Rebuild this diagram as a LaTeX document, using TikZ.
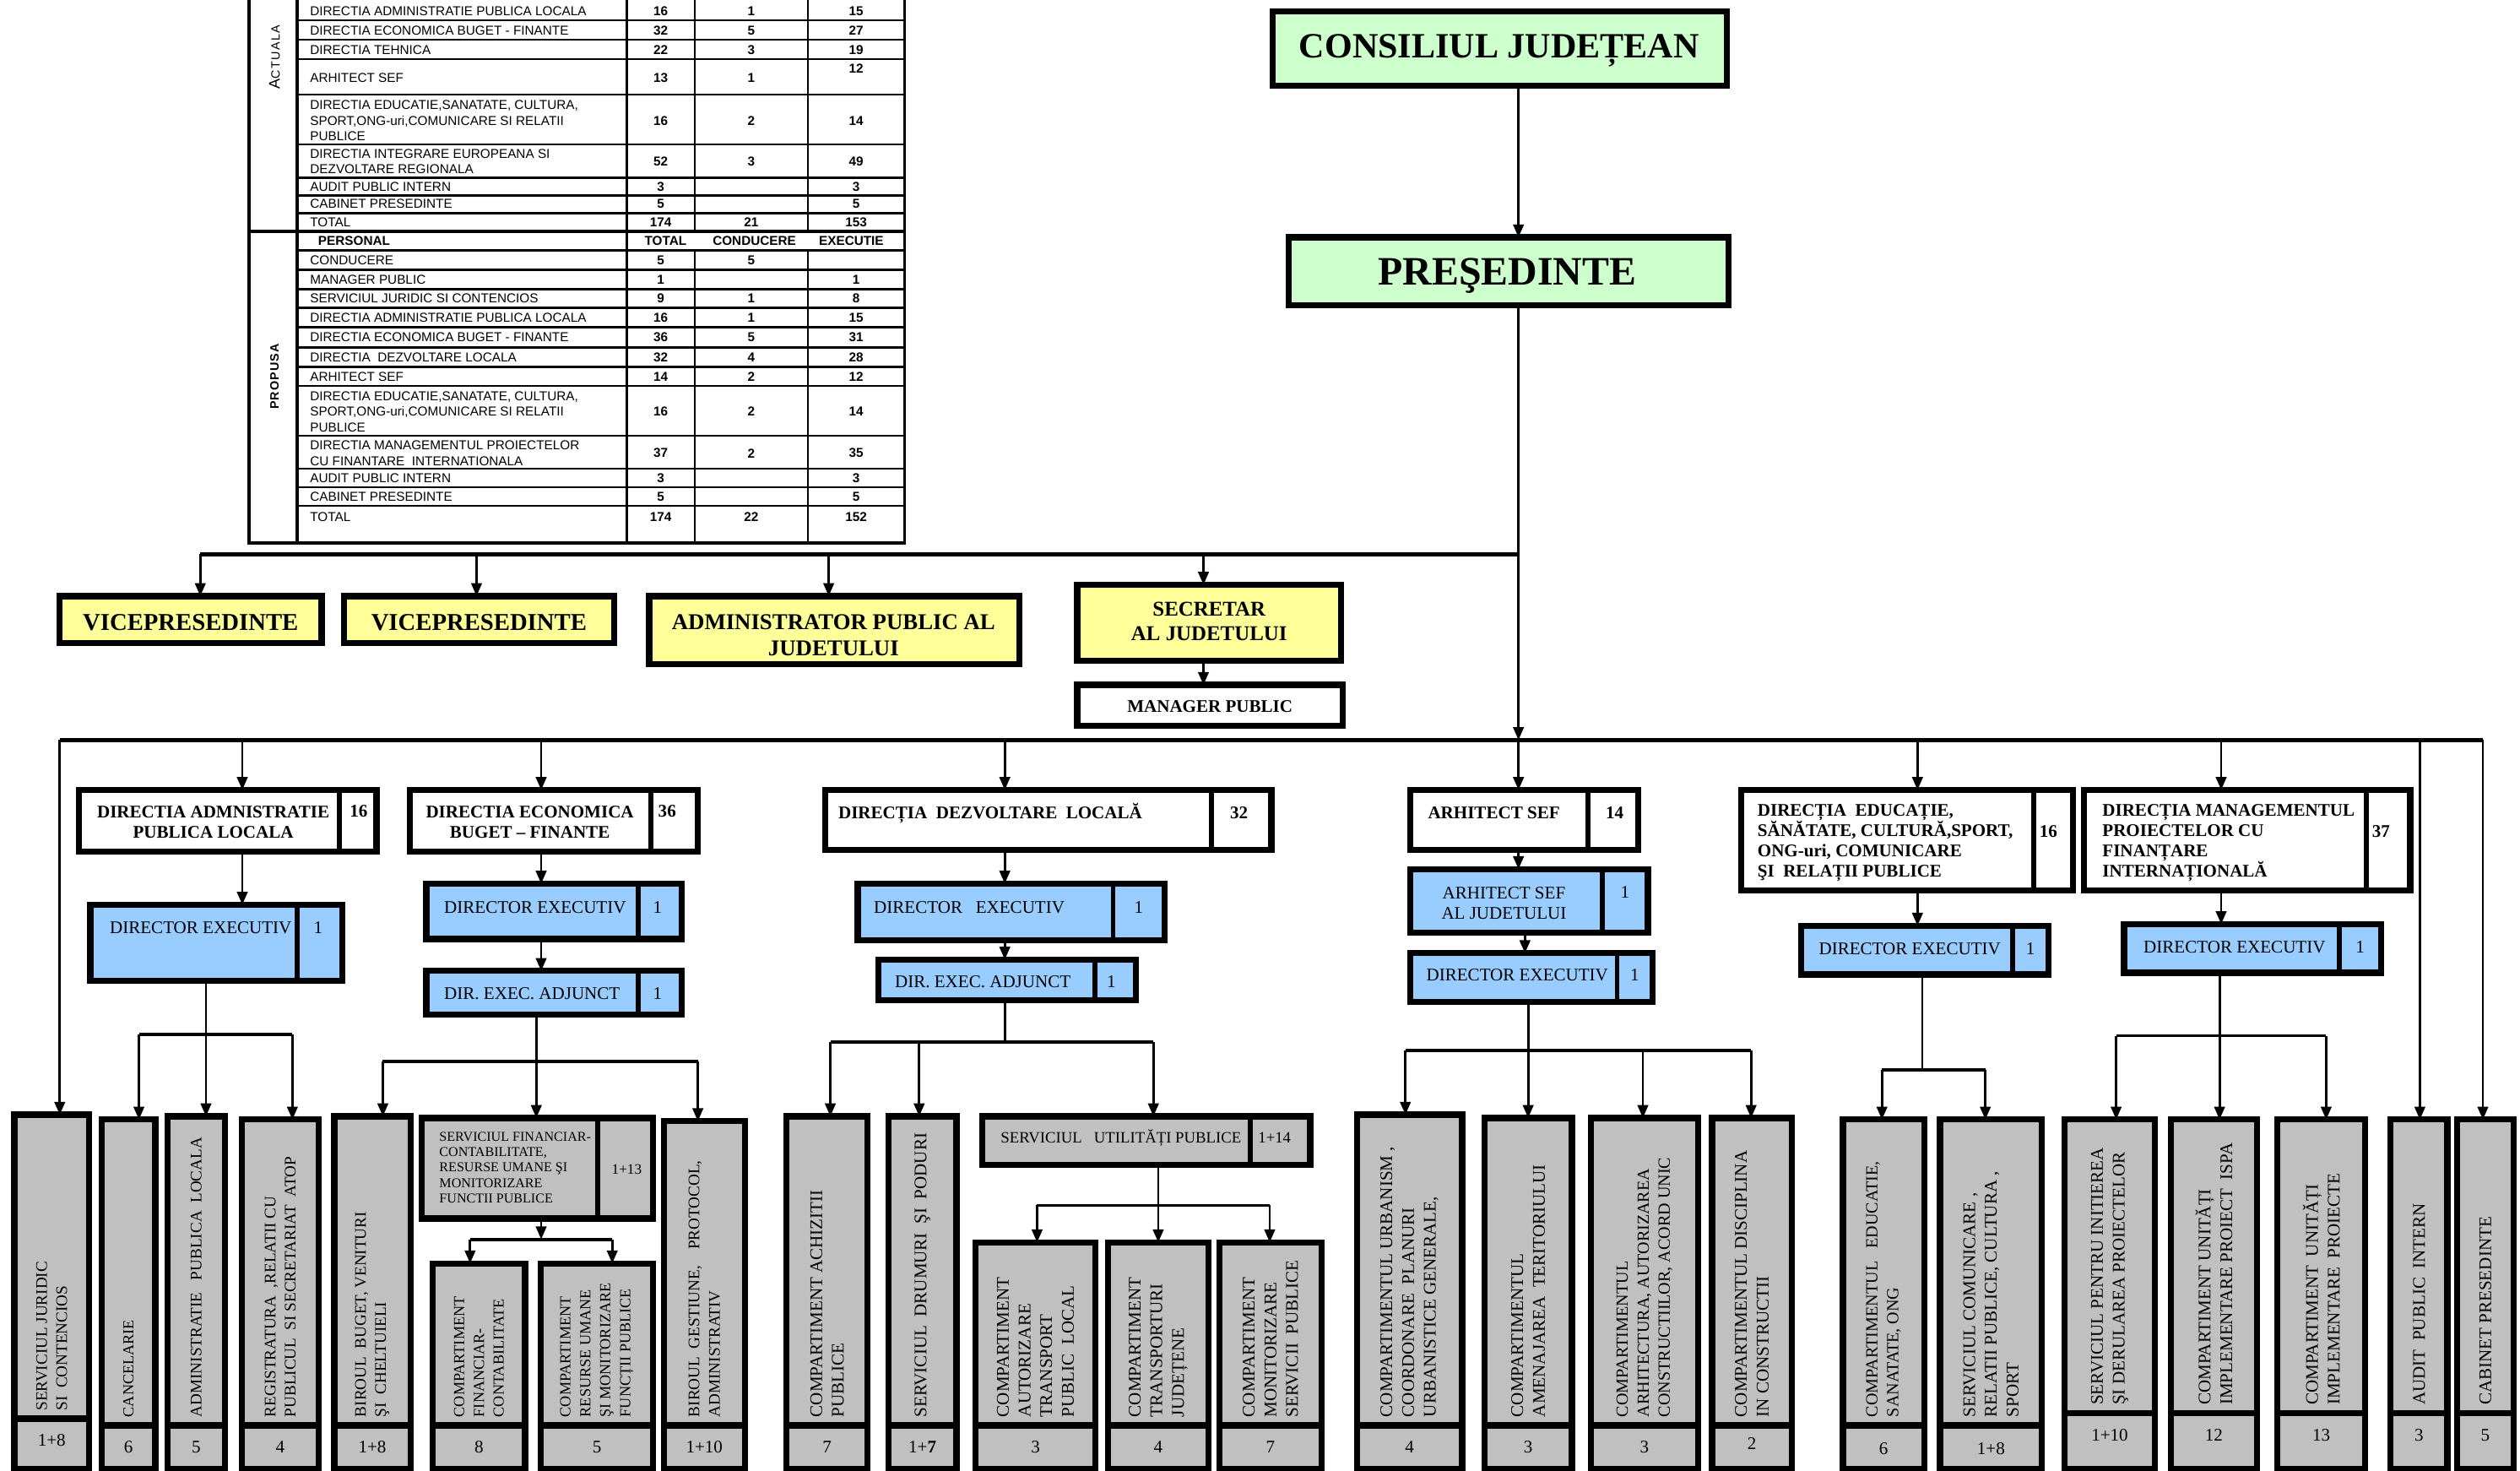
\documentclass[tikz,border=0pt]{standalone}
\usepackage{fontspec}
\setmainfont{Liberation Serif}
\newfontfamily\arialf{Liberation Sans}
\usetikzlibrary{arrows.meta}
\definecolor{cgreen}{HTML}{CCFFCC}
\definecolor{cyellow}{HTML}{FFFF99}
\definecolor{cblue}{HTML}{99CCFF}
\definecolor{cgrey}{HTML}{C0C0C0}
\newcommand\fsz[2]{\fontsize{#1}{#2}\selectfont}
\tikzset{
  every node/.style={inner sep=0pt, outer sep=0pt},
  frame/.style={draw=black, line width=3.8pt},
  gnbox/.style={frame, fill=cgreen},
  ybox/.style={frame, fill=cyellow},
  wbox/.style={frame, fill=white},
  bbox/.style={frame, fill=cblue},
  gbox/.style={frame, fill=cgrey},
  ln/.style={line width=1.5pt},
  arr/.style={line width=1.5pt, -{Triangle[length=8pt,width=6.5pt]}},
  busl/.style={line width=2.4pt},
  brl/.style={line width=2pt},
  divl/.style={line width=3pt},
  tthick/.style={line width=2pt},
  tthin/.style={line width=1.2pt},
  tname/.style={font=\arialf\fsz{8}{9.6}, anchor=west, align=left},
  tnum/.style={font=\arialf\bfseries\fsz{8}{9.6}},
  lvl/.style={font=\bfseries\fsz{11}{12.6}},
  blu/.style={font=\fsz{11}{13}},
}
\newcommand\rbox[6]{\node[#1, minimum width={#5-#3-3.8}, minimum height={#6-#4-3.8}] (#2) at ({(#3+#5)/2},{(#4+#6)/2}) {};}
\newcommand\colbox[9][\fsz{11}{13.4}]{%
  \node[gbox, minimum width={#4-#3-3.8}, minimum height={911-#5-3.8}] (#2) at ({(#3+#4)/2},{(#5+911)/2}) {};
  \draw[line width=4pt] (#3,#6) -- (#4,#6);
  \node[rotate=90, anchor=west, align=left, font=#1] (#2t) at ({(#3+#4)/2},{#6-5}) {#7};
  \node[anchor=base, font=\fsz{11}{13}] (#2n) at ({(#3+#4)/2},#9) {#8};}
\newcommand\trow[7]{%
  \node[tname] (n#1) at (192,#2) {#4};
  \node[tnum] (t#1) at (409,#2) {#5};
  \node[tnum] (c#1) at (465,#2) {#6};
  \node[tnum] (e#1) at (530,#2) {#7};
  \draw[tthin] (184,#3) -- (560,#3);}
\begin{document}
\begin{tikzpicture}[x=1pt,y=-1pt]
\useasboundingbox (0,0) rectangle (1560,910);

% ---------------- table ----------------
\trow{a1}{7}{12.5}{DIRECTIA ADMINISTRATIE PUBLICA LOCALA}{16}{1}{15}
\trow{a2}{18.8}{24.7}{DIRECTIA ECONOMICA BUGET - FINANTE}{32}{5}{27}
\trow{a3}{31}{36.6}{DIRECTIA TEHNICA}{22}{3}{19}
\trow{a4}{48}{58.7}{ARHITECT SEF}{13}{1}{}
\node[tnum] (ea4b) at (530,42.3) {12};
\trow{a5}{74.6}{89.3}{DIRECTIA EDUCATIE,SANATATE, CULTURA,\\SPORT,ONG-uri,COMUNICARE SI RELATII\\PUBLICE}{16}{2}{14}
\trow{a6}{99.8}{110}{DIRECTIA INTEGRARE EUROPEANA SI\\DEZVOLTARE REGIONALA}{52}{3}{49}
\trow{a7}{115.5}{121}{AUDIT PUBLIC INTERN}{3}{}{3}
\trow{a8}{126.3}{132}{CABINET PRESEDINTE}{5}{}{5}
\trow{a9}{137.7}{143}{TOTAL}{174}{21}{153}
\node[tnum, anchor=west] (hp) at (197,149) {PERSONAL};
\node[tnum] (ht) at (412,149) {TOTAL};
\node[tnum] (hc) at (467,149) {CONDUCERE};
\node[tnum] (he) at (527,149) {EXECUTIE};
\draw[tthin] (184,155) -- (560,155);
\trow{p1}{161}{167}{CONDUCERE}{5}{5}{}
\trow{p2}{173}{179}{MANAGER PUBLIC}{1}{}{1}
\trow{p3}{184.6}{190.5}{SERVICIUL JURIDIC SI CONTENCIOS}{9}{1}{8}
\trow{p4}{196.6}{202.5}{DIRECTIA ADMINISTRATIE PUBLICA LOCALA}{16}{1}{15}
\trow{p5}{208.8}{215}{DIRECTIA ECONOMICA BUGET - FINANTE}{36}{5}{31}
\trow{p6}{221.3}{227}{DIRECTIA~~DEZVOLTARE LOCALA}{32}{4}{28}
\trow{p7}{233}{239}{ARHITECT SEF}{14}{2}{12}
\trow{p8}{254.8}{269.5}{DIRECTIA EDUCATIE,SANATATE, CULTURA,\\SPORT,ONG-uri,COMUNICARE SI RELATII\\PUBLICE}{16}{2}{14}
\trow{p9}{280.5}{290}{DIRECTIA MANAGEMENTUL PROIECTELOR\\CU FINANTARE~~INTERNATIONALA}{37}{2}{35}
\trow{p10}{296}{301.5}{AUDIT PUBLIC INTERN}{3}{}{3}
\trow{p11}{307.5}{313}{CABINET PRESEDINTE}{5}{}{5}
\trow{p12}{320}{336}{TOTAL}{174}{22}{152}
\draw[tthick] (154,0) -- (154,336.5);
\draw[tthick] (184,0) -- (184,336.5);
\draw[tthick] (560,0) -- (560,336.5);
\draw[tthin] (388,0) -- (388,336);
\draw[tthin] (430,0) -- (430,143) (430,155) -- (430,336);
\draw[tthin] (500,0) -- (500,143) (500,155) -- (500,336);
\draw[tthick] (154,143) -- (560,143);
\draw[tthick] (153,336) -- (561,336);
\node[rotate=90, font=\arialf] (lblA) at (170,35.5) {{\fsz{9.5}{10}A}{\fsz{7.5}{8}\addfontfeature{LetterSpace=10}CTUALA}};
\node[rotate=90, font=\arialf\bfseries\fsz{7.5}{8}] (lblP) at (170,233) {\addfontfeature{LetterSpace=8}PROPUSA};

% ---------------- top ----------------
\rbox{gnbox}{cj}{786}{5}{1071}{55}
\node[anchor=base, font=\bfseries\fsz{22}{24}] (cjt) at (928,36) {CONSILIUL JUDEȚEAN};
\rbox{gnbox}{pr}{796}{145}{1072}{191}
\node[anchor=base, font=\bfseries\fsz{25}{27}] (prt) at (933,176.5) {PREŞEDINTE};

\rbox{ybox}{v1}{35}{367}{201}{400}
\node[anchor=base, font=\bfseries\fsz{15}{17}] (v1t) at (118,390) {VICEPRESEDINTE};
\rbox{ybox}{v2}{211}{367}{382}{400}
\node[anchor=base, font=\bfseries\fsz{15}{17}] (v2t) at (296.5,390) {VICEPRESEDINTE};
\rbox{ybox}{adm}{400}{367}{633}{413}
\node[align=center, font=\bfseries\fsz{14}{16}] (admt) at (516,393) {ADMINISTRATOR PUBLIC AL\\JUDETULUI};
\rbox{ybox}{sec}{665}{360}{832}{411}
\node[align=center, font=\bfseries\fsz{13}{15}] (sect) at (748.5,384.5) {SECRETAR\\AL JUDETULUI};
\rbox{wbox}{mgr}{665}{422}{833}{451}
\node[anchor=base, font=\bfseries\fsz{11}{13}] (mgrt) at (749,441) {MANAGER PUBLIC};

% ---------------- level 2 ----------------
\rbox{wbox}{dirA}{47}{487}{235}{529}
\draw[divl] (210,487) -- (210,529);
\node[lvl, align=center] (dirAt) at (132,509) {DIRECTIA ADMNISTRATIE\\PUBLICA LOCALA};
\node[lvl, anchor=base] (dirAn) at (222,505.5) {16};
\rbox{wbox}{dirB}{252}{487}{434}{529}
\draw[divl] (403,487) -- (403,529);
\node[lvl, align=center] (dirBt) at (328,509) {DIRECTIA ECONOMICA\\BUGET -- FINANTE};
\node[lvl, anchor=base] (dirBn) at (413,505.5) {36};
\rbox{wbox}{dirC}{509}{487}{789}{528}
\draw[divl] (750,487) -- (750,528);
\node[lvl, anchor=base west] (dirCt) at (519,506.5) {DIRECȚIA~~DEZVOLTARE~~LOCALĂ};
\node[lvl, anchor=base] (dirCn) at (767,506.5) {32};
\rbox{wbox}{arh}{871}{487}{1016}{528}
\draw[divl] (983,487) -- (983,528);
\node[lvl, anchor=base west] (arht) at (884,506.5) {ARHITECT SEF};
\node[lvl, anchor=base] (arhn) at (999.5,506.5) {14};
\rbox{wbox}{dirE}{1076}{487}{1285}{553}
\draw[divl] (1259,487) -- (1259,553);
\node[lvl, anchor=west, align=left] (dirEt) at (1088,521.5) {DIRECȚIA~~EDUCAȚIE,\\SĂNĂTATE, CULTURĂ,SPORT,\\ONG-uri, COMUNICARE\\ŞI~~RELAȚII PUBLICE};
\node[lvl, anchor=base] (dirEn) at (1268,518) {16};
\rbox{wbox}{dirF}{1288}{487}{1494}{553}
\draw[divl] (1465,487) -- (1465,553);
\node[lvl, anchor=west, align=left] (dirFt) at (1301.5,521.5) {DIRECȚIA MANAGEMENTUL\\PROIECTELOR CU\\FINANȚARE\\INTERNAȚIONALĂ};
\node[lvl, anchor=base] (dirFn) at (1474,518) {37};

% ---------------- level 3 (blue) ----------------
\rbox{bbox}{deA}{54}{558}{214}{609}
\draw[divl] (184,558) -- (184,609);
\node[blu, anchor=base west] (deAt) at (68,578) {DIRECTOR EXECUTIV};
\node[blu, anchor=base] (deAn) at (197,578) {1};
\rbox{bbox}{deB}{262}{545}{424}{583}
\draw[divl] (395,545) -- (395,583);
\node[blu, anchor=base west] (deBt) at (275,565) {DIRECTOR EXECUTIV};
\node[blu, anchor=base] (deBn) at (407,565) {1};
\rbox{bbox}{adjB}{262}{599}{424}{630}
\draw[divl] (395,599) -- (395,630);
\node[blu, anchor=base west] (adjBt) at (275,618.5) {DIR. EXEC. ADJUNCT};
\node[blu, anchor=base] (adjBn) at (407,618.5) {1};
\rbox{bbox}{deC}{529}{545}{723}{584}
\draw[divl] (689,545) -- (689,584);
\node[blu, anchor=base west] (deCt) at (541,565) {DIRECTOR~~~EXECUTIV};
\node[blu, anchor=base] (deCn) at (705,565) {1};
\rbox{bbox}{adjC}{542}{592}{705}{621}
\draw[divl] (678,592) -- (678,621);
\node[blu, anchor=base west] (adjCt) at (554,611) {DIR. EXEC. ADJUNCT};
\node[blu, anchor=base] (adjCn) at (688,611) {1};
\rbox{bbox}{ajD}{871}{536}{1022}{579}
\draw[divl] (992,536) -- (992,579);
\node[blu, align=center] (ajDt) at (931,559) {ARHITECT SEF\\AL JUDETULUI};
\node[blu, anchor=base] (ajDn) at (1006,556) {1};
\rbox{bbox}{deD}{871}{588}{1025}{622}
\draw[divl] (1001,588) -- (1001,622);
\node[blu, anchor=base west] (deDt) at (883,607) {DIRECTOR EXECUTIV};
\node[blu, anchor=base] (deDn) at (1012,607) {1};
\rbox{bbox}{deE}{1113}{571}{1270}{605}
\draw[divl] (1246,571) -- (1246,605);
\node[blu, anchor=base west] (deEt) at (1126,591) {DIRECTOR EXECUTIV};
\node[blu, anchor=base] (deEn) at (1257,591) {1};
\rbox{bbox}{deF}{1313}{570}{1476}{604}
\draw[divl] (1448,570) -- (1448,604);
\node[blu, anchor=base west] (deFt) at (1327,590) {DIRECTOR EXECUTIV};
\node[blu, anchor=base] (deFn) at (1461,590) {1};

% ---------------- grey horizontal boxes ----------------
\rbox{gbox}{sf}{259}{690}{406}{756}
\draw[divl] (370,690) -- (370,756);
\node[anchor=north west, align=left, font=\fsz{8.4}{9.6}] (sft) at (272,700.5) {SERVICIUL FINANCIAR-\\CONTABILITATE,\\RESURSE UMANE ŞI\\MONITORIZARE\\ FUNCTII PUBLICE};
\node[anchor=base, font=\fsz{9}{11}] (sfn) at (388,726.5) {1+13};
\rbox{gbox}{su}{606}{689}{813}{723}
\draw[divl] (774,689) -- (774,723);
\node[anchor=base west, font=\fsz{9.8}{12}] (sut) at (619.5,707.5) {SERVICIUL~~~UTILITĂȚI PUBLICE};
\node[anchor=base, font=\fsz{9.8}{12}] (sun) at (789,707.5) {1+14};

% ---------------- bottom columns ----------------
\colbox[\fsz{10}{12.4}]{jur}{7}{57}{688}{878}{SERVICIUL JURIDIC\\SI~~CONTENCIOS}{1+8}{895}
\colbox[\fsz{9.5}{11.6}]{can}{61}{98}{691}{882}{CANCELARIE}{6}{899}
\colbox[\fsz{10}{12.4}]{apl}{102}{141}{689}{882}{ADMINISTRATIE~~~PUBLICA~~LOCALA}{5}{899}
\colbox[\fsz{10}{12.4}]{reg}{148}{199}{691}{882}{REGISTRATURA~~,RELATII CU\\PUBLICUL~~SI SECRETARIAT~~ATOP}{4}{899}
\colbox[\fsz{10}{12.4}]{bbv}{205}{256}{689}{882}{BIROUL~~BUGET, VENITURI\\ŞI~~CHELTUIELI}{1+8}{899}
\colbox[\fsz{9.5}{12.2}]{cfc}{266}{327}{780}{882}{COMPARTIMENT\\FINANCIAR-\\CONTABILITATE}{8}{899}
\colbox[\fsz{9.5}{12.4}]{cru}{333}{406}{780}{882}{COMPARTIMENT\\RESURSE UMANE\\ŞI MONITORIZARE\\FUNCȚII PUBLICE}{5}{899}
\colbox[\fsz{10}{12.6}]{bga}{409}{463}{692}{882}{BIROUL~~GESTIUNE,~~~~PROTOCOL,\\ADMINISTRATIV}{1+10}{899}
\colbox{cap}{485}{539}{689}{882}{COMPARTIMENT ACHIZITII\\PUBLICE}{7}{899}
\colbox{sdp}{548}{594}{689}{882}{SERVICIUL~~DRUMURI~~ŞI~~PODURI}{1+\textbf{7}}{899}
\colbox{cat}{602}{680}{767}{882}{COMPARTIMENT\\AUTORIZARE\\TRANSPORT\\PUBLIC~~LOCAL}{3}{899}
\colbox{ctj}{684}{750}{767}{882}{COMPARTIMENT\\TRANSPORTURI\\JUDEȚENE}{4}{899}
\colbox{cms}{753}{820}{767}{882}{COMPARTIMENT\\MONITORIZARE\\SERVICII~~PUBLICE}{7}{899}
\colbox{cur}{838}{907}{688}{882}{COMPARTIMENTUL URBANISM ,\\COORDONARE~~PLANURI\\URBANISTICE GENERALE,}{4}{899}
\colbox{cam}{917}{975}{690}{882}{COMPARTIMENTUL\\AMENAJAREA~~TERITORIULUI}{3}{899}
\colbox[\fsz{10.5}{13}]{car}{983}{1053}{690}{882}{COMPARTIMENTUL\\ARHITECTURA, AUTORIZAREA\\CONSTRUCTIILOR, ACORD UNIC}{3}{899}
\colbox{cdc}{1058}{1111}{690}{882}{COMPARTIMENTUL DISCIPLINA\\IN CONSTRUCTII}{2}{897}
\colbox[\fsz{10.5}{13}]{ces}{1139}{1193}{691}{882}{COMPARTIMENTUL~~~EDUCATIE,\\SANATATE, ONG}{6}{900}
\colbox{scr}{1199}{1266}{691}{882}{SERVICIUL COMUNICARE ,\\RELATII PUBLICE, CULTURA ,\\SPORT}{1+8}{900}
\colbox{spi}{1276}{1336}{691}{874.5}{SERVICIUL PENTRU INITIEREA\\ŞI DERULAREA PROIECTELOR}{1+10}{892}
\colbox{cui}{1342}{1399}{691}{874.5}{COMPARTIMENT UNITĂȚI\\IMPLEMENTARE PROIECT~~ISPA}{12}{892}
\colbox{cup}{1408}{1466}{691}{874.5}{COMPARTIMENT~~UNITĂȚI\\IMPLEMENTARE~~PROIECTE}{13}{892}
\colbox{api}{1478}{1517}{691}{874.5}{AUDIT~~PUBLIC~~INTERN}{3}{892}
\colbox{cpr}{1519}{1558}{691}{874.5}{CABINET PRESEDINTE}{5}{892}

% ---------------- connectors ----------------
\coordinate (jU) at (940,343);
\coordinate (jB) at (940,458);
\draw[arr] (cj.south -| jU) -- (pr.north -| jU);
\draw[ln] (pr.south -| jU) -- (jU);
\draw[arr] (jU) -- (jB);
\coordinate (u1) at (124,343);
\coordinate (u2) at (295,343);
\coordinate (u3) at (513,343);
\coordinate (u4) at (745,343);
\draw[busl] (u1) -- (jU);
\draw[arr] (u1) -- (u1 |- v1.north);
\draw[arr] (u2) -- (u2 |- v2.north);
\draw[arr] (u3) -- (u3 |- adm.north);
\draw[arr] (u4) -- (u4 |- sec.north);
\draw[arr] (sec.south -| u4) -- (mgr.north -| u4);

\coordinate (b0) at (37,458);
\coordinate (b1) at (150,458);
\coordinate (b2) at (335,458);
\coordinate (b3) at (622,458);
\coordinate (b5) at (1187,458);
\coordinate (b6) at (1375,458);
\coordinate (b7) at (1498,458);
\coordinate (b8) at (1537,458);
\draw[busl] (b0) -- (b8);
\draw[arr] (b0) -- (b0 |- jur.north);
\draw[arr] (b1) -- (b1 |- dirA.north);
\draw[arr] (b2) -- (b2 |- dirB.north);
\draw[arr] (b3) -- (b3 |- dirC.north);
\draw[arr] (jB) -- (jB |- arh.north);
\draw[arr] (b5) -- (b5 |- dirE.north);
\draw[arr] (b6) -- (b6 |- dirF.north);
\draw[arr] (b7) -- (b7 |- api.north);
\draw[arr] (b8) -- (b8 |- cpr.north);

\draw[arr] (dirA.south -| b1) -- (deA.north -| b1);
\draw[arr] (dirB.south -| b2) -- (deB.north -| b2);
\draw[arr] (deB.south -| b2) -- (adjB.north -| b2);
\draw[arr] (dirC.south -| b3) -- (deC.north -| b3);
\draw[arr] (deC.south -| b3) -- (adjC.north -| b3);
\draw[arr] (arh.south -| jB) -- (ajD.north -| jB);
\coordinate (xD) at (944,0);
\draw[arr] (ajD.south -| xD) -- (deD.north -| xD);
\draw[arr] (dirE.south -| b5) -- (deE.north -| b5);
\draw[arr] (dirF.south -| b6) -- (deF.north -| b6);

% admin branch
\coordinate (aL) at (86,640);
\coordinate (aM) at (127.5,640);
\coordinate (aR) at (181,640);
\draw[ln] (deA.south -| aM) -- (aM);
\draw[brl] (aL) -- (aR);
\draw[arr] (aL) -- (aL |- can.north);
\draw[arr] (aM) -- (aM |- apl.north);
\draw[arr] (aR) -- (aR |- reg.north);
% economic branch
\coordinate (eL) at (237,657);
\coordinate (eM) at (332,657);
\coordinate (eR) at (432,657);
\draw[ln] (adjB.south -| eM) -- (eM);
\draw[brl] (eL) -- (eR);
\draw[arr] (eL) -- (eL |- bbv.north);
\draw[arr] (eM) -- (eM |- sf.north);
\draw[arr] (eR) -- (eR |- bga.north);
\coordinate (fL) at (291,767);
\coordinate (fM) at (335,767);
\coordinate (fR) at (379,767);
\draw[arr] (sf.south -| fM) -- (fM);
\draw[brl] (fL) -- (fR);
\draw[arr] (fL) -- (fL |- cfc.north);
\draw[arr] (fR) -- (fR |- cru.north);
% dezvoltare branch
\coordinate (dL) at (514,645);
\coordinate (dM) at (569,645);
\coordinate (dC) at (622,645);
\coordinate (dR) at (714,645);
\draw[ln] (adjC.south -| dC) -- (dC);
\draw[brl] (dL) -- (dR);
\draw[arr] (dL) -- (dL |- cap.north);
\draw[arr] (dM) -- (dM |- sdp.north);
\draw[arr] (dR) -- (dR |- su.north);
\coordinate (sL) at (642,746);
\coordinate (sM) at (717,746);
\coordinate (sR) at (786,746);
\draw[ln] (su.south -| sM) -- (sM);
\draw[brl] (sL) -- (sR);
\draw[arr] (sL) -- (sL |- cat.north);
\draw[arr] (sM) -- (sM |- ctj.north);
\draw[arr] (sR) -- (sR |- cms.north);
% arhitect branch
\coordinate (hL) at (870,650);
\coordinate (h2) at (946,650);
\coordinate (h3) at (1017,650);
\coordinate (hR) at (1084,650);
\draw[ln] (deD.south -| h2) -- (h2);
\draw[brl] (hL) -- (hR);
\draw[arr] (hL) -- (hL |- cur.north);
\draw[arr] (h2) -- (h2 |- cam.north);
\draw[arr] (h3) -- (h3 |- car.north);
\draw[arr] (hR) -- (hR |- cdc.north);
% educatie branch
\coordinate (cL) at (1165,662);
\coordinate (cC) at (1190,662);
\coordinate (cR) at (1229,662);
\draw[ln] (deE.south -| cC) -- (cC);
\draw[brl] (cL) -- (cR);
\draw[arr] (cL) -- (cL |- ces.north);
\draw[arr] (cR) -- (cR |- scr.north);
% management branch
\coordinate (mL) at (1310,641);
\coordinate (mM) at (1374,641);
\coordinate (mR) at (1440,641);
\draw[ln] (deF.south -| mM) -- (mM);
\draw[brl] (mL) -- (mR);
\draw[arr] (mL) -- (mL |- spi.north);
\draw[arr] (mM) -- (mM |- cui.north);
\draw[arr] (mR) -- (mR |- cup.north);
\end{tikzpicture}
\end{document}
